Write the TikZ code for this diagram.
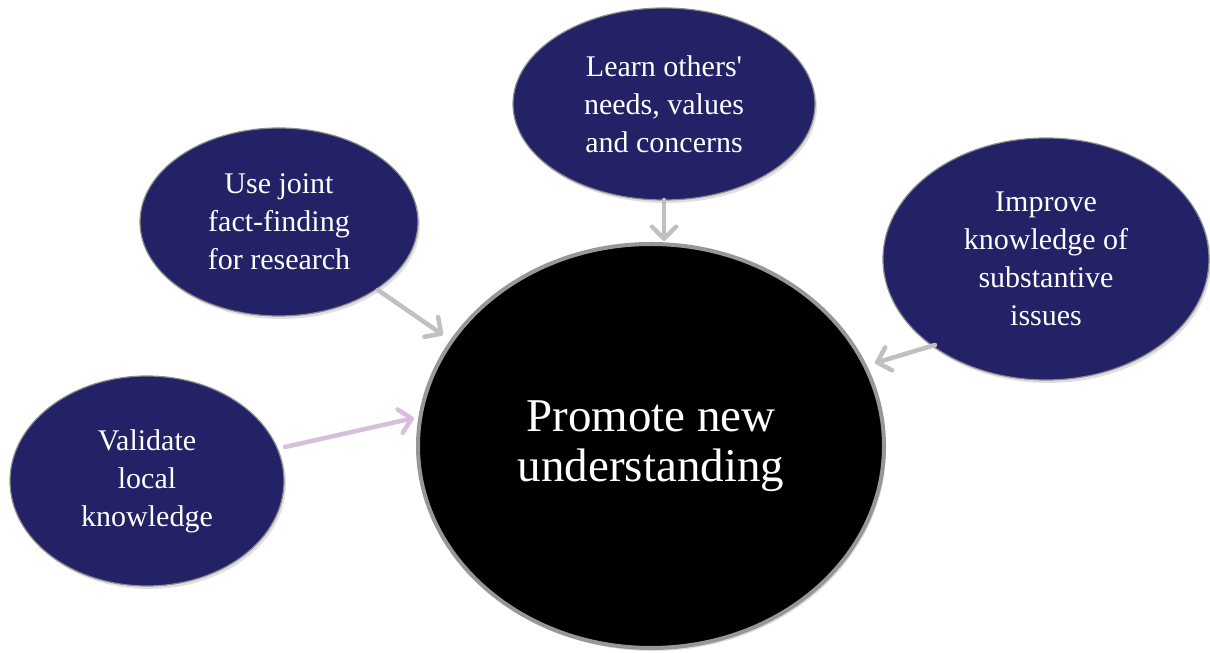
\documentclass[tikz,border=0pt]{standalone}
\usepackage{fontspec}
\setmainfont{Liberation Serif}
\usetikzlibrary{shapes.geometric,arrows.meta,shadows}
\definecolor{navy}{RGB}{36,34,102}
\definecolor{arrgray}{RGB}{192,192,192}
\definecolor{arrpink}{RGB}{216,190,220}
\definecolor{rimgray}{RGB}{140,140,140}
\begin{document}
\begin{tikzpicture}[x=1pt,y=1pt,
  bubble/.style={ellipse,fill=navy,draw=rimgray,line width=1.2pt,inner sep=0pt,
    text=white,align=center,font=\fontsize{30}{38}\selectfont,
    drop shadow={shadow xshift=2pt,shadow yshift=-3pt,opacity=0.25}},
  hub/.style={ellipse,fill=black,draw=rimgray!90,line width=4pt,inner sep=0pt,
    text=white,align=center,font=\fontsize{47}{50}\selectfont,
    drop shadow={shadow xshift=2pt,shadow yshift=-3pt,opacity=0.25}},
  conn/.style={line width=4.5pt,draw=arrgray,line cap=round,-{Straight Barb[length=12pt,width=24pt,line width=4.5pt,round]}},
  ]
\useasboundingbox (0,0) rectangle (1210,653);
\node[hub,minimum width=466pt,minimum height=404pt] (hub) at (651,207) {Promote new\\understanding};
\node[bubble,minimum width=302pt,minimum height=192pt] (top) at (664,549) {Learn others\textquotesingle\\needs, values\\and concerns};
\node[bubble,minimum width=278pt,minimum height=188pt] (ul) at (279,431) {Use joint\\fact-finding\\for research};
\node[bubble,minimum width=326pt,minimum height=242pt] (right) at (1046,394) {Improve\\knowledge of\\substantive\\issues};
\node[bubble,minimum width=274pt,minimum height=210pt] (ll) at (147,172) {Validate\\local\\knowledge};
\coordinate (a1s) at (664,453);
\coordinate (a1e) at (664,412);
\coordinate (a2s) at (378,363);
\coordinate (a2e) at (443,318);
\coordinate (a3s) at (935,308);
\coordinate (a3e) at (875,290);
\coordinate (a4s) at (285,206);
\coordinate (a4e) at (414,235);
\draw[conn] (a1s) -- (a1e);
\draw[conn] (a2s) -- (a2e);
\draw[conn] (a3s) -- (a3e);
\draw[conn,draw=arrpink] (a4s) -- (a4e);
\end{tikzpicture}
\end{document}
